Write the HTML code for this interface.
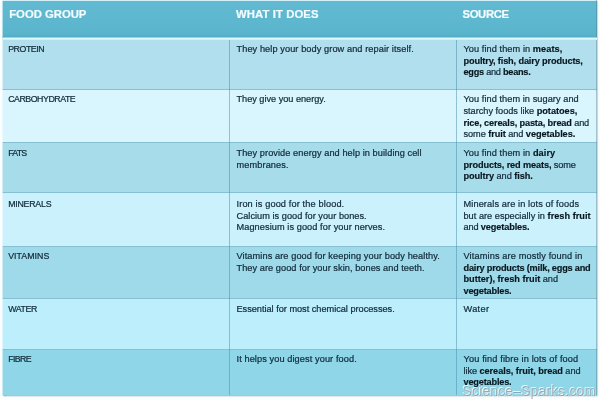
<!DOCTYPE html>
<html lang="en">
<head>
<meta charset="utf-8">
<title>Food groups</title>
<style>
html,body{margin:0;padding:0}
body{width:600px;height:400px;overflow:hidden;background:#fafeff;position:relative;font-family:"Liberation Sans",sans-serif}
#tbl{position:absolute;left:2px;top:0;width:595px;height:395px;box-shadow:.5px 1px 1.5px rgba(60,90,100,.6)}
.el{position:absolute;left:0;top:0;width:1px;height:100%;background:rgba(250,254,255,.55)}
.er{position:absolute;right:0;top:0;width:1px;height:100%;background:rgba(80,115,130,.4)}
.hd{position:absolute;left:0;top:0;width:100%;height:37px;background:linear-gradient(#62bad2,#5db7cf 55%,#59b4cc 92%,#52acc4);border-top:1px solid #d3f1f8;box-sizing:border-box}
.hd span{position:absolute;top:7.3px;font-weight:bold;font-size:11.3px;line-height:13px;color:#f3fcff;-webkit-text-stroke:.2px #f3fcff;white-space:nowrap}
.gap{position:absolute;z-index:2;left:0;top:37px;width:100%;height:3px;background:linear-gradient(#98d2e1 33.3%,#dcf9fe 33.3%,#dcf9fe 66.6%,#d0f1f9 66.6%)}
.row{position:absolute;left:0;width:100%;box-sizing:border-box;border-top:1px solid #88c0d3}
.cell{position:absolute;color:#122b3a;-webkit-text-stroke:.22px #122b3a;font-size:9.2px;line-height:11.6px}
.cell b{color:#08171f;-webkit-text-stroke:.15px #08171f}
.c0{left:6.2px;font-size:8.8px}
.c1{left:234.5px}
.c2{left:461.5px}
.ln{display:block;white-space:nowrap}
.v{position:absolute;top:40px;width:1px;height:355px;background:rgba(70,140,170,.5)}
#wm{position:absolute;left:462.6px;top:382px;font-size:14px;line-height:18px;letter-spacing:.12px;color:rgba(125,140,150,.62);white-space:nowrap;text-shadow:-.8px -.8px 0 rgba(255,255,255,.85),.6px .6px 1px rgba(255,255,255,.55)}
</style>
</head>
<body>
<div id="tbl">
<div class="hd"><span style="left:7.2px">FOOD GROUP</span><span style="left:234px;letter-spacing:.1px">WHAT IT DOES</span><span style="left:460.5px;letter-spacing:-.35px">SOURCE</span></div>
<div class="gap"></div>
<div class="row" style="top:39px;height:50px;background:#b1dfed;border-top-color:transparent;">
  <div class="cell c0" style="top:4px"><span class="ln" style="letter-spacing:-0.458px">PROTEIN</span></div>
  <div class="cell c1" style="top:4px"><span class="ln" style="letter-spacing:0.087px">They help your body grow and repair itself.</span></div>
  <div class="cell c2" style="top:4px"><span class="ln" style="letter-spacing:0.071px">You find them in <b>meats,</b></span><span class="ln" style="letter-spacing:-0.138px"><b>poultry, fish, dairy products,</b></span><span class="ln" style="letter-spacing:-0.269px"><b>eggs</b> and <b>beans.</b></span></div>
</div>
<div class="row" style="top:89px;height:53px;background:#d9f5fd;">
  <div class="cell c0" style="top:4px"><span class="ln" style="letter-spacing:-0.470px">CARBOHYDRATE</span></div>
  <div class="cell c1" style="top:4px"><span class="ln" style="letter-spacing:-0.023px">They give you energy.</span></div>
  <div class="cell c2" style="top:4px;line-height:11.8px"><span class="ln" style="letter-spacing:0.062px">You find them in sugary and</span><span class="ln" style="letter-spacing:-0.020px">starchy foods like <b>potatoes,</b></span><span class="ln" style="letter-spacing:-0.151px"><b>rice, cereals, pasta, bread</b> and</span><span class="ln" style="letter-spacing:-0.065px">some <b>fruit</b> and <b>vegetables.</b></span></div>
</div>
<div class="row" style="top:142px;height:50px;background:#a7dcea;">
  <div class="cell c0" style="top:5px"><span class="ln" style="letter-spacing:-0.823px">FATS</span></div>
  <div class="cell c1" style="top:5px"><span class="ln" style="letter-spacing:0.072px">They provide energy and help in building cell</span><span class="ln" style="letter-spacing:0.111px">membranes.</span></div>
  <div class="cell c2" style="top:5px"><span class="ln" style="letter-spacing:0.077px">You find them in <b>dairy</b></span><span class="ln" style="letter-spacing:-0.126px"><b>products, red meats,</b> some</span><span class="ln" style="letter-spacing:-0.076px"><b>poultry</b> and <b>fish.</b></span></div>
</div>
<div class="row" style="top:192px;height:54px;background:#cbf1fc;">
  <div class="cell c0" style="top:6px"><span class="ln" style="letter-spacing:-0.232px">MINERALS</span></div>
  <div class="cell c1" style="top:6px"><span class="ln" style="letter-spacing:0.134px">Iron is good for the blood.</span><span class="ln" style="letter-spacing:0.031px">Calcium is good for your bones.</span><span class="ln" style="letter-spacing:0.075px">Magnesium is good for your nerves.</span></div>
  <div class="cell c2" style="top:6px"><span class="ln" style="letter-spacing:0.113px">Minerals are in lots of foods</span><span class="ln" style="letter-spacing:0.014px">but are especially in <b>fresh fruit</b></span><span class="ln" style="letter-spacing:-0.133px">and <b>vegetables.</b></span></div>
</div>
<div class="row" style="top:246px;height:52px;background:#9edae9;">
  <div class="cell c0" style="top:4px"><span class="ln" style="letter-spacing:0.025px">VITAMINS</span></div>
  <div class="cell c1" style="top:4px"><span class="ln" style="letter-spacing:0.095px">Vitamins are good for keeping your body healthy.</span><span class="ln" style="letter-spacing:0.059px">They are good for your skin, bones and teeth.</span></div>
  <div class="cell c2" style="top:4px"><span class="ln" style="letter-spacing:0.132px">Vitamins are mostly found in</span><span class="ln" style="letter-spacing:-0.208px"><b>dairy products (milk, eggs and</b></span><span class="ln" style="letter-spacing:-0.017px"><b>butter), fresh fruit</b> and</span><span class="ln" style="letter-spacing:-0.192px"><b>vegetables.</b></span></div>
</div>
<div class="row" style="top:298px;height:51px;background:#bceefc;">
  <div class="cell c0" style="top:5px"><span class="ln" style="letter-spacing:-0.383px">WATER</span></div>
  <div class="cell c1" style="top:5px"><span class="ln" style="letter-spacing:-0.016px">Essential for most chemical processes.</span></div>
  <div class="cell c2" style="top:5px"><span class="ln" style="letter-spacing:0.332px">Water</span></div>
</div>
<div class="row" style="top:349px;height:46px;background:#8ed6e8;">
  <div class="cell c0" style="top:4px"><span class="ln" style="letter-spacing:-0.633px">FIBRE</span></div>
  <div class="cell c1" style="top:4px"><span class="ln" style="letter-spacing:0.095px">It helps you digest your food.</span></div>
  <div class="cell c2" style="top:4px"><span class="ln" style="letter-spacing:0.145px">You find fibre in lots of food</span><span class="ln" style="letter-spacing:-0.067px">like <b>cereals, fruit, bread</b> and</span><span class="ln" style="letter-spacing:-0.192px"><b>vegetables.</b></span></div>
</div>
<div class="v" style="left:227px"></div><div class="v" style="left:454px"></div>
<div class="el"></div><div class="er"></div>
</div>
<div id="wm">Science&#8211;Sparks.com</div>
</body>
</html>
